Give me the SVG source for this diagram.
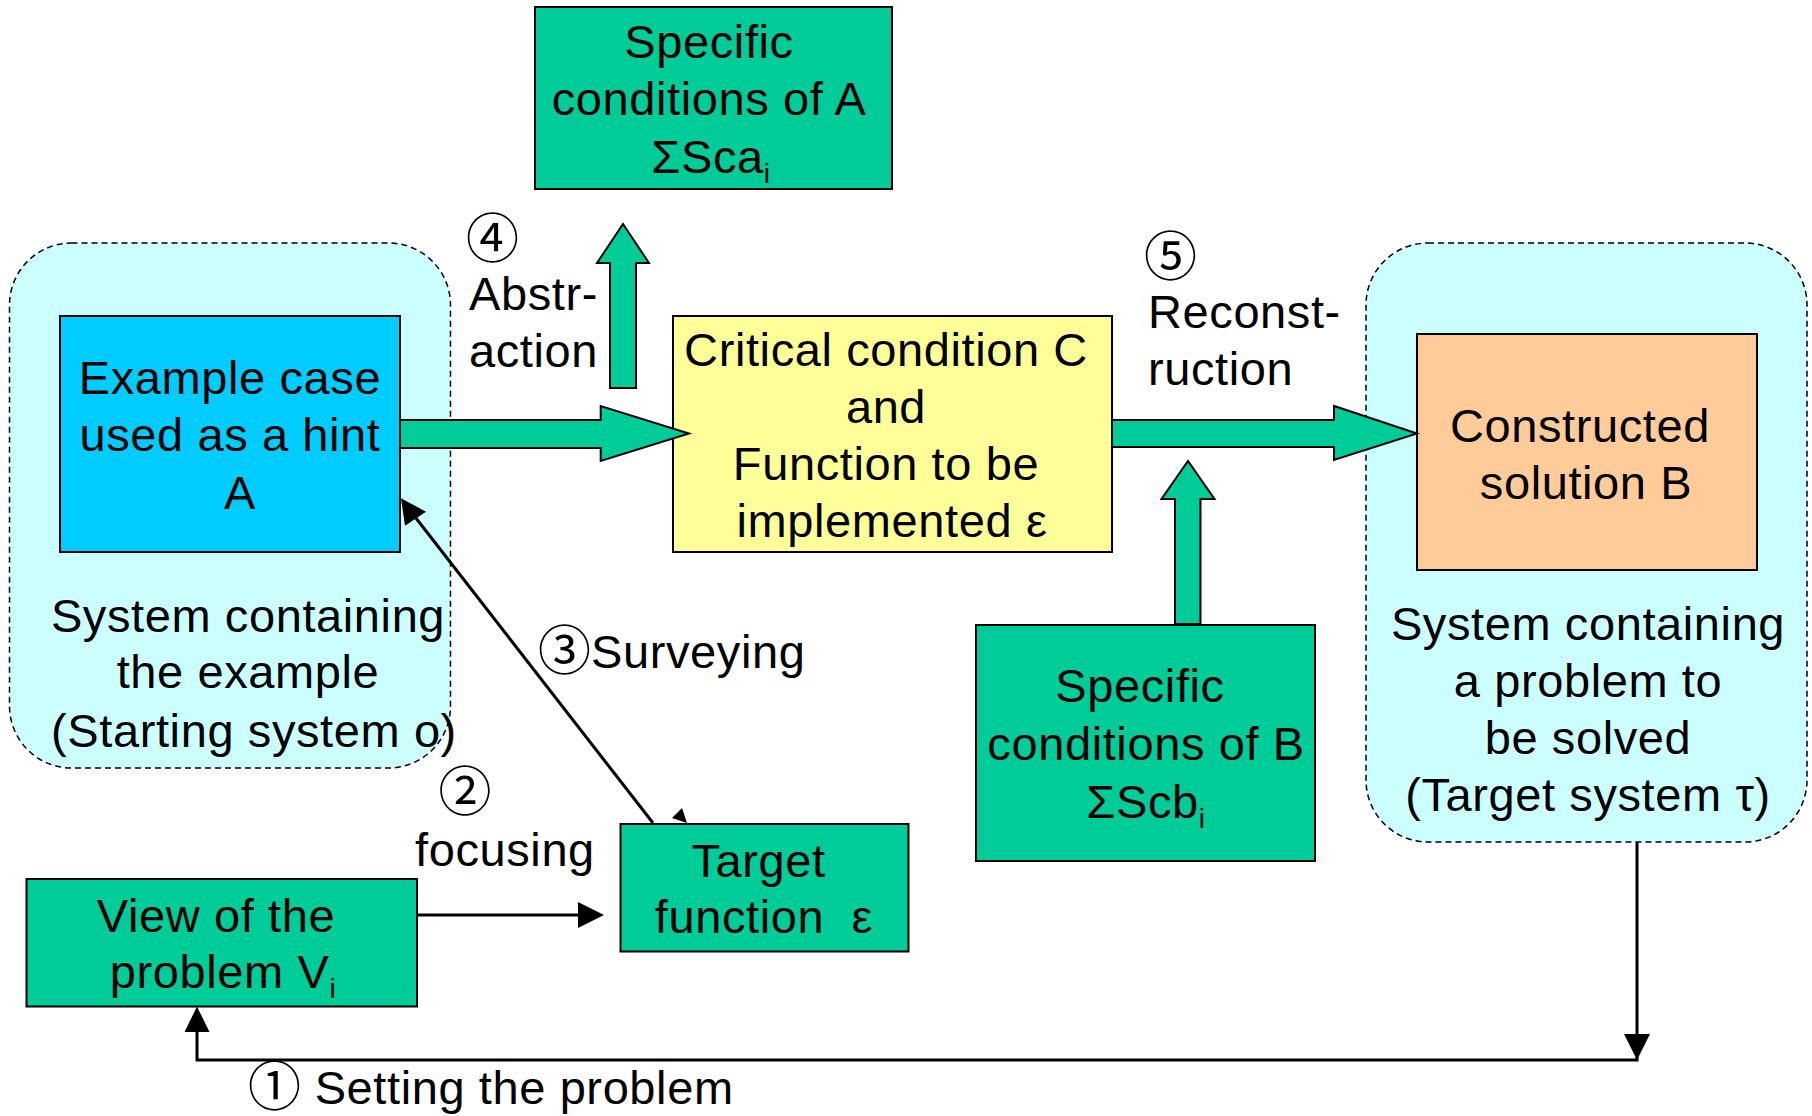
<svg xmlns="http://www.w3.org/2000/svg" width="1812" height="1116" viewBox="0 0 1812 1116">
<style>
  text { font-family: "Liberation Sans", "Noto Sans CJK JP", "DejaVu Sans", sans-serif; font-size: 47px; letter-spacing: 0.6px; fill: #000; }
  .c { text-anchor: middle; }
  .sub { font-size: 28px; }
  .num { font-size: 53px; letter-spacing: 0; }
  .sys { fill: #CCFFFF; stroke: #000; stroke-width: 1.5; stroke-dasharray: 6 4; }
  .box { stroke: #000; stroke-width: 2; }
  .green { fill: #00CC99; }
  .blue { fill: #00CCFF; }
  .yellow { fill: #FFFF99; }
  .orange { fill: #FFCC99; }
  .garrow { fill: #00CC99; stroke: #000; stroke-width: 2; stroke-linejoin: miter; }
  .line { stroke: #000; stroke-width: 3; fill: none; }
  .head { fill: #000; stroke: none; }
</style>
<rect width="1812" height="1116" fill="#FFFFFF"/>

<g id="system-start">
  <rect class="sys" x="9.5" y="243" width="441" height="525" rx="62" ry="62"/>
  <text class="c" x="248" y="632">System containing</text>
  <text class="c" x="248" y="688">the example</text>
  <text class="c" x="254" y="747">(Starting system o)</text>
</g>

<g id="system-target">
  <rect class="sys" x="1366" y="243" width="441" height="599" rx="62" ry="62"/>
  <text class="c" x="1588" y="640">System containing</text>
  <text class="c" x="1588" y="697">a problem to</text>
  <text class="c" x="1588" y="754">be solved</text>
  <text class="c" x="1588" y="811">(Target system τ)</text>
</g>

<g id="spec-a">
  <rect class="box green" x="535" y="7" width="357" height="182"/>
  <text class="c" x="709" y="58">Specific</text>
  <text class="c" x="709" y="115">conditions of A</text>
  <text class="c" x="711" y="173">ΣSca<tspan class="sub" dy="10">i</tspan></text>
</g>

<g id="example-a">
  <rect class="box blue" x="60" y="316" width="340" height="236"/>
  <text class="c" x="230" y="394">Example case</text>
  <text class="c" x="230" y="451">used as a hint</text>
  <text class="c" x="240" y="509">A</text>
</g>

<g id="critical-c">
  <rect class="box yellow" x="673" y="316" width="439" height="236"/>
  <text class="c" x="886" y="366">Critical condition C</text>
  <text class="c" x="886" y="423">and</text>
  <text class="c" x="886" y="480">Function to be</text>
  <text class="c" x="892" y="537">implemented ε</text>
</g>

<g id="solution-b">
  <rect class="box orange" x="1417" y="334" width="340" height="236"/>
  <text class="c" x="1580" y="442">Constructed</text>
  <text class="c" x="1586" y="499">solution B</text>
</g>

<g id="spec-b">
  <rect class="box green" x="976" y="625" width="339" height="236"/>
  <text class="c" x="1140" y="702">Specific</text>
  <text class="c" x="1146" y="760">conditions of B</text>
  <text class="c" x="1146" y="818">ΣScb<tspan class="sub" dy="10">i</tspan></text>
</g>

<g id="target-function">
  <rect class="box green" x="620.5" y="824" width="288" height="127.5"/>
  <text class="c" x="758.5" y="877">Target</text>
  <text class="c" x="764" y="933" xml:space="preserve">function  ε</text>
</g>

<g id="view-problem">
  <rect class="box green" x="26.5" y="879" width="390.5" height="127.5"/>
  <text class="c" x="216" y="932">View of the</text>
  <text class="c" x="223" y="988">problem V<tspan class="sub" dy="10">i</tspan></text>
</g>

<g id="connectors">
  <!-- green block arrows -->
  <polygon class="garrow" points="400,420 600.7,420 600.7,406 689,433.5 600.7,461 600.7,448 400,448"/>
  <polygon class="garrow" points="1112,420 1334,420 1334,406 1417,433.5 1334,460 1334,447 1112,447"/>
  <polygon class="garrow" points="610,388 610,263 597,263 623,224 649,263 636,263 636,388"/>
  <polygon class="garrow" points="1175,624 1175,499 1161.5,499 1188,461 1214.5,499 1200.5,499 1200.5,624"/>

  <!-- focusing arrow -->
  <line class="line" x1="417" y1="915" x2="580" y2="915"/>
  <polygon class="head" points="578,902 604,915 578,928"/>

  <!-- surveying arrow -->
  <line class="line" x1="653" y1="823" x2="412" y2="513"/>
  <polygon class="head" points="401,498.3 426,511.7 405,525.7"/>
  <polygon class="head" points="672,818 682,808 687,823"/>

  <!-- setting the problem loop -->
  <polyline class="line" points="1637,842 1637,1060 197,1060 197,1030"/>
  <polygon class="head" points="1624,1034 1650,1034 1637,1060"/>
  <polygon class="head" points="184.5,1032 209.5,1032 197,1006.5"/>
</g>

<g id="labels">
  <text class="num" x="466" y="258">④</text>
  <text x="469" y="310">Abstr-</text>
  <text x="469" y="367">action</text>
  <text class="num" x="1144" y="276">⑤</text>
  <text x="1148" y="328">Reconst-</text>
  <text x="1148" y="385">ruction</text>
  <text x="538" y="668"><tspan class="num" dy="2">③</tspan><tspan dy="-2">Surveying</tspan></text>
  <text class="c num" x="465" y="811">②</text>
  <text x="415" y="866">focusing</text>
  <text x="248" y="1104"><tspan class="num" dy="2">①</tspan><tspan dy="-2"> Setting the problem</tspan></text>
</g>
</svg>
